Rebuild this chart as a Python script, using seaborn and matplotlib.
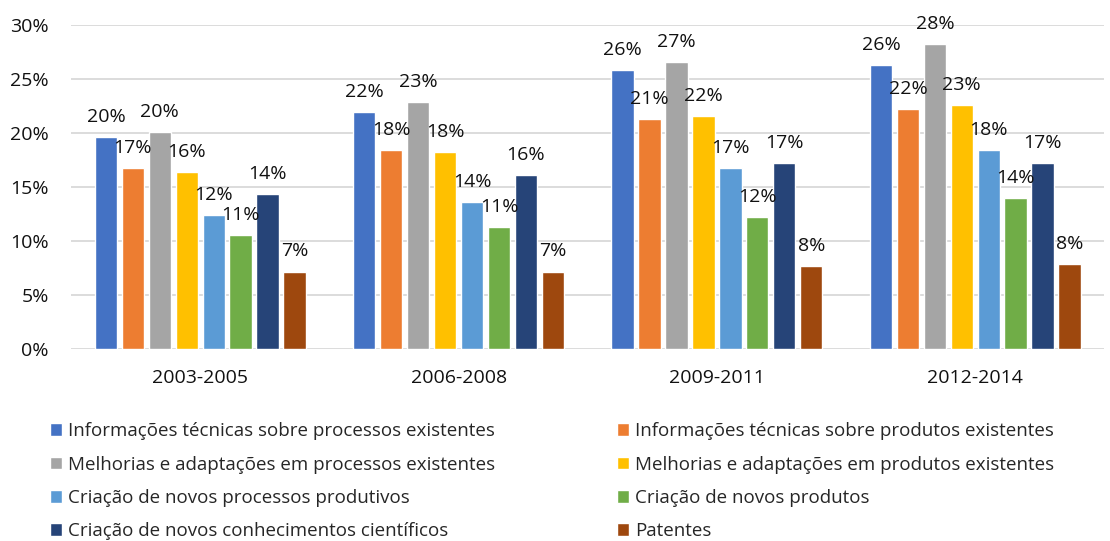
import pandas as pd
import seaborn as sns
import matplotlib.pyplot as plt
from matplotlib.ticker import PercentFormatter

periodos = ["2003-2005", "2006-2008", "2009-2011", "2012-2014"]

tipos = [
    "Informações técnicas sobre processos existentes",
    "Informações técnicas sobre produtos existentes",
    "Melhorias e adaptações em processos existentes",
    "Melhorias e adaptações em produtos existentes",
    "Criação de novos processos produtivos",
    "Criação de novos produtos",
    "Criação de novos conhecimentos científicos",
    "Patentes",
]

# percent values, one list per type (2003-2005 .. 2012-2014)
info_processos = [19.6, 21.95, 25.8, 26.25]
info_produtos = [16.8, 18.4, 21.3, 22.2]
melhorias_processos = [20.1, 22.85, 26.6, 28.2]
melhorias_produtos = [16.4, 18.25, 21.6, 22.6]
novos_processos = [12.4, 13.6, 16.8, 18.4]
novos_produtos = [10.6, 11.3, 12.2, 14.0]
conhecimentos = [14.35, 16.1, 17.2, 17.2]
patentes = [7.2, 7.2, 7.7, 7.9]

valores = [info_processos, info_produtos, melhorias_processos, melhorias_produtos,
           novos_processos, novos_produtos, conhecimentos, patentes]

cores = ["#4472C4", "#ED7D31", "#A5A5A5", "#FFC000",
         "#5B9BD5", "#70AD47", "#264478", "#9E480E"]

rows = []
for tipo, vals in zip(tipos, valores):
    for periodo, v in zip(periodos, vals):
        rows.append({"periodo": periodo, "tipo": tipo, "valor": v})
df = pd.DataFrame(rows)

sns.set_style("white")
plt.rcParams["font.family"] = ["Open Sans", "DejaVu Sans"]
fs = 14

fig, ax = plt.subplots(figsize=(11.1, 5.41), dpi=100)
fig.subplots_adjust(left=0.064, right=0.995, top=0.954, bottom=0.354)

sns.barplot(data=df, x="periodo", y="valor", hue="tipo", hue_order=tipos,
            palette=cores, width=0.834, gap=0.17, errorbar=None, ax=ax,
            saturation=1)

for cont in ax.containers:
    ax.bar_label(cont, labels=[f"{v:.0f}%" for v in cont.datavalues],
                 padding=8, fontsize=fs, color="#111111")

ax.set_ylim(0, 30)
ax.set_yticks(range(0, 31, 5))
ax.yaxis.set_major_formatter(PercentFormatter(decimals=0))
ax.grid(axis="y", color="#d9d9d9", linewidth=1.3)
ax.set_axisbelow(True)
for s in ax.spines.values():
    s.set_visible(False)
ax.set_xlabel("")
ax.set_ylabel("")
ax.tick_params(axis="both", length=0, labelsize=fs, colors="#111111")
ax.tick_params(axis="x", pad=14)
ax.tick_params(axis="y", pad=16)

handles, labels = ax.get_legend_handles_labels()
order = [0, 2, 4, 6, 1, 3, 5, 7]
ax.legend([handles[i] for i in order], [labels[i] for i in order],
          ncol=2, loc="upper left", bbox_to_anchor=(-0.037, -0.172),
          frameon=False, fontsize=13.5, handlelength=0.67, handleheight=0.67,
          handletextpad=0.3, columnspacing=6.5, labelspacing=0.82)

fig.savefig("out.png", dpi=100)
